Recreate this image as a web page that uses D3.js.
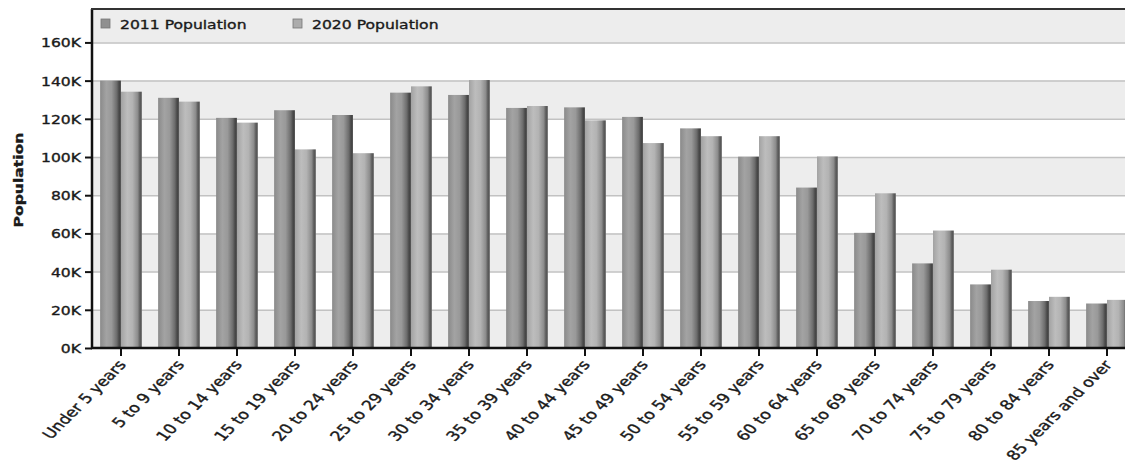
<!DOCTYPE html>
<html>
<head>
<meta charset="utf-8">
<script src="https://cdn.jsdelivr.net/npm/d3@7"></script>
<style>
  html, body { margin: 0; padding: 0; background: #ffffff; overflow: hidden; }
  svg { display: block; }
  text { font-family: "DejaVu Sans", Verdana, sans-serif; fill: #1a1a1a; stroke: #1a1a1a; stroke-width: 0.35px; }
</style>
</head>
<body>
<svg id="chart" width="1125" height="466"></svg>
<script>
// ---- data ----
const categories = ["Under 5 years","5 to 9 years","10 to 14 years","15 to 19 years","20 to 24 years",
  "25 to 29 years","30 to 34 years","35 to 39 years","40 to 44 years","45 to 49 years","50 to 54 years",
  "55 to 59 years","60 to 64 years","65 to 69 years","70 to 74 years","75 to 79 years","80 to 84 years",
  "85 years and over"];
const seriesNames = ["2011 Population", "2020 Population"];
const pop2011 = [140000,131000,120500,124500,122000,133700,132500,125700,126000,121000,115000,100200,84000,60300,44300,33300,24600,23300];
const pop2020 = [134200,129000,118000,104000,102000,137000,140300,126700,119200,107300,110900,110900,100300,81000,61500,41000,26800,25200];
const yTicks = [0,20000,40000,60000,80000,100000,120000,140000,160000];
const yTickLabels = ["0K","20K","40K","60K","80K","100K","120K","140K","160K"];
const yTitle = "Population";

// ---- layout ----
const svg = d3.select("#chart");
const mLeft = 92, mRight = 1136, mTop = 9, mBottom = 348;
const yMax = 177500;
const stretch = 1.3;

const x0 = d3.scaleBand().domain(categories).range([mLeft, mRight]).paddingInner(0.28).paddingOuter(0.14);
const x1 = d3.scaleBand().domain(seriesNames).range([0, x0.bandwidth()]).padding(0);
const y = d3.scaleLinear().domain([0, yMax]).range([mBottom, mTop]);

const rows = categories.map((c, i) => ({cat: c, vals: [pop2011[i], pop2020[i]]}));

// gradients
const defs = svg.append("defs");
const gradSpecs = [
  {id: "g2011", stops: [["0%","#8a8a8a"],["30%","#a3a3a3"],["55%","#999999"],["80%","#6c6c6c"],["92%","#444444"],["100%","#5a5a5a"]]},
  {id: "g2020", stops: [["0%","#a2a2a2"],["30%","#bdbdbd"],["55%","#b3b3b3"],["80%","#8c8c8c"],["92%","#555555"],["100%","#6c6c6c"]]}
];
gradSpecs.forEach(g => {
  const lg = defs.append("linearGradient").attr("id", g.id).attr("x1","0").attr("x2","1").attr("y1","0").attr("y2","0");
  g.stops.forEach(s => lg.append("stop").attr("offset", s[0]).attr("stop-color", s[1]));
});
const fills = ["url(#g2011)", "url(#g2020)"];
const swatch = ["#909090", "#acacac"];

// background bands
const bandEdges = yTicks.concat([yMax]);
const plot = svg.append("g");
for (let k = 0; k < bandEdges.length - 1; k++) {
  if (k % 2 === 0) {
    plot.append("rect")
      .attr("x", mLeft).attr("width", mRight - mLeft)
      .attr("y", y(bandEdges[k+1])).attr("height", y(bandEdges[k]) - y(bandEdges[k+1]))
      .attr("fill", "#ededed");
  }
}
// gridlines
plot.selectAll("line.grid").data(yTicks.slice(1)).join("line")
  .attr("class","grid")
  .attr("x1", mLeft).attr("x2", mRight)
  .attr("y1", d => y(d) + 0.5).attr("y2", d => y(d) + 0.5)
  .attr("stroke", "#c2c2c2").attr("stroke-width", 1.5);

// bars
const groups = svg.append("g").selectAll("g").data(rows).join("g")
  .attr("transform", d => `translate(${x0(d.cat)},0)`);
groups.selectAll("rect").data(d => d.vals.map((v, j) => ({v, j}))).join("rect")
  .attr("x", d => x1(seriesNames[d.j]))
  .attr("width", x1.bandwidth())
  .attr("y", d => y(d.v))
  .attr("height", d => y(0) - y(d.v))
  .attr("fill", d => fills[d.j]);

// y axis
const yAxis = svg.append("g").attr("transform", `translate(${mLeft},0)`)
  .call(d3.axisLeft(y).tickValues(yTicks).tickFormat((d, i) => yTickLabels[i]).tickSize(7).tickPadding(4));
yAxis.select(".domain").remove();
yAxis.selectAll(".tick line").attr("stroke", "#111").attr("stroke-width", 2);
yAxis.selectAll(".tick text")
  .attr("font-size", 12).attr("font-family", "DejaVu Sans").attr("fill", "#1a1a1a")
  .attr("x", null).attr("dy", null)
  .attr("transform", `translate(-11,4.5) scale(${stretch},1)`);
svg.append("line").attr("x1", mLeft).attr("x2", mLeft).attr("y1", mTop).attr("y2", mBottom + 1)
  .attr("stroke", "#111").attr("stroke-width", 2.5);

// x axis
const xAxis = svg.append("g").attr("transform", `translate(0,${mBottom})`)
  .call(d3.axisBottom(x0).tickSize(8).tickSizeOuter(0));
xAxis.select(".domain").remove();
xAxis.selectAll(".tick line").attr("stroke", "#111").attr("stroke-width", 2);
xAxis.selectAll(".tick text")
  .attr("font-size", 13.5).attr("font-family", "DejaVu Sans").attr("fill", "#1a1a1a")
  .attr("text-anchor", "end").attr("y", null).attr("dy", null)
  .attr("transform", `translate(6,17) scale(${stretch},1) rotate(-52)`);
svg.append("line").attr("x1", mLeft - 1).attr("x2", 1125).attr("y1", mBottom).attr("y2", mBottom)
  .attr("stroke", "#111").attr("stroke-width", 2.5);

// top border
svg.append("line").attr("x1", mLeft - 1).attr("x2", 1125).attr("y1", mTop).attr("y2", mTop)
  .attr("stroke", "#333").attr("stroke-width", 2);

// y title
svg.append("text").text(yTitle)
  .attr("font-size", 13).attr("font-weight", "bold").attr("text-anchor", "middle")
  .attr("transform", "translate(23,180) rotate(-90) scale(1.2,1)");

// legend
const legendX = [101, 293];
const legend = svg.append("g").selectAll("g").data(seriesNames).join("g")
  .attr("transform", (d, i) => `translate(${legendX[i]},19)`);
legend.append("rect").attr("width", 9).attr("height", 9)
  .attr("fill", (d, i) => swatch[i]).attr("stroke", "#777").attr("stroke-width", 0.8);
legend.append("text").text(d => d)
  .attr("font-size", 12)
  .attr("transform", `translate(19,9.5) scale(${stretch},1)`);
</script>
</body>
</html>
